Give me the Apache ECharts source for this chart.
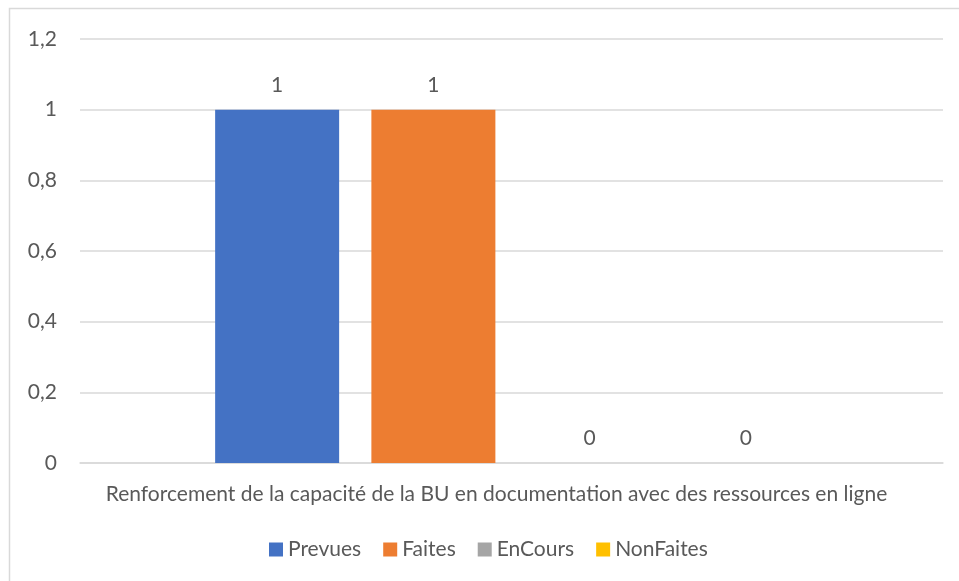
<!DOCTYPE html>
<html><head><meta charset="utf-8">
<script src="https://cdn.jsdelivr.net/npm/echarts@6/dist/echarts.min.js"></script>
<style>html,body{margin:0;padding:0;background:#fff}#c{width:959px;height:581px}</style>
</head><body><div id="c"></div>
<script>
const categories = ["Renforcement de la capacité de la BU en documentation avec des ressources en ligne"];
const seriesNames = ["Prevues", "Faites", "EnCours", "NonFaites"];
const prevues = [1];
const faites = [1];
const enCours = [0];
const nonFaites = [0];
const colors = ["#4472C4", "#ED7D31", "#A5A5A5", "#FFC000"];
const yTicks = [0, 0.2, 0.4, 0.6, 0.8, 1, 1.2];

const values = [prevues, faites, enCours, nonFaites];
const font = "Lato, 'Open Sans', sans-serif";
const fs = 21;
const chart = echarts.init(document.getElementById('c'), null, {renderer: 'canvas'});
chart.setOption({
  backgroundColor: '#fff',
  animation: false,
  textStyle: {fontFamily: font},
  graphic: [{type: 'rect', shape: {x: 9.5, y: 8.5, width: 960, height: 590}, style: {fill: 'none', stroke: '#d9d9d9', lineWidth: 1.5}, silent: true}],
  grid: {left: 80, right: 16, top: 39, bottom: 118, containLabel: false},
  legend: {
    data: seriesNames, top: 534, left: 264, itemWidth: 14, itemHeight: 14, itemGap: 22,
    icon: 'rect',
    textStyle: {color: '#595959', fontSize: fs, fontFamily: font}
  },
  xAxis: {
    type: 'category', data: categories,
    axisLine: {lineStyle: {color: '#d9d9d9', width: 1.5}},
    axisTick: {show: false},
    axisLabel: {color: '#595959', fontSize: fs, fontFamily: font, margin: 21, padding: [0, 30, 0, 0]}
  },
  yAxis: {
    type: 'value', min: 0, max: yTicks[yTicks.length - 1], interval: 0.2,
    axisLine: {show: false}, axisTick: {show: false},
    splitLine: {lineStyle: {color: '#d9d9d9', width: 1.5}},
    axisLabel: {color: '#595959', fontSize: fs, fontFamily: font, margin: 23,
      formatter: v => String(Math.round(v * 10) / 10).replace('.', ',')}
  },
  series: values.map((d, i) => ({
    name: seriesNames[i], type: 'bar', data: d, barWidth: 124, barGap: '26%',
    itemStyle: {color: colors[i]},
    label: {show: true, position: 'top', distance: 14, color: '#595959', fontSize: fs, fontFamily: font}
  }))
});
</script></body></html>
